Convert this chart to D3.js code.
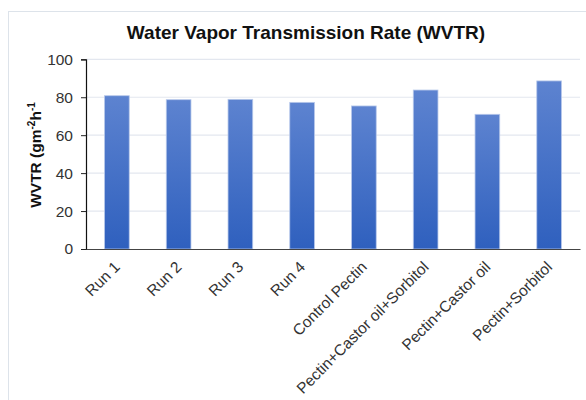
<!DOCTYPE html>
<html>
<head>
<meta charset="utf-8">
<script src="https://cdn.jsdelivr.net/npm/d3@7"></script>
<style>
  body { margin: 0; background: #fff; }
  text { font-family: "Liberation Sans", Arial, sans-serif; }
</style>
</head>
<body>
<div id="chart"></div>
<script>
// datos
const categories = ['Run 1', 'Run 2', 'Run 3', 'Run 4', 'Control Pectin',
  'Pectin+Castor oil+Sorbitol', 'Pectin+Castor oil', 'Pectin+Sorbitol'];
const wvtr = [80.8, 78.7, 78.9, 77.3, 75.4, 83.8, 71.0, 88.6];
const yTicks = [0, 20, 40, 60, 80, 100];

const W = 586, H = 400;
const m = { l: 86, r: 6, t: 59.3, b: 151 };

const svg = d3.select('#chart').append('svg').attr('width', W).attr('height', H);

// marco claro
svg.append('rect').attr('x', 8.5).attr('y', 11.5).attr('width', W).attr('height', H)
  .attr('fill', 'none').attr('stroke', '#dde3ea');

const x = d3.scaleBand().domain(categories).range([m.l, W - m.r])
  .paddingInner(0.6).paddingOuter(0.3);
const y = d3.scaleLinear().domain([0, 100]).range([H - m.b, m.t]);

// degradado azul
const grad = svg.append('defs').append('linearGradient')
  .attr('id', 'barGrad').attr('x1', 0).attr('y1', 0).attr('x2', 0).attr('y2', 1);
grad.append('stop').attr('offset', '0%').attr('stop-color', '#5d83d0');
grad.append('stop').attr('offset', '100%').attr('stop-color', '#2f60be');

// líneas de cuadrícula
svg.append('g').selectAll('line').data(yTicks.slice(1)).enter().append('line')
  .attr('x1', m.l).attr('x2', W - m.r)
  .attr('y1', d => y(d)).attr('y2', d => y(d))
  .attr('stroke', '#e3e7ef').attr('stroke-width', 1.2);

// barras
svg.append('g').selectAll('rect').data(wvtr).enter().append('rect')
  .attr('x', (d, i) => x(categories[i]))
  .attr('y', d => y(d))
  .attr('width', x.bandwidth())
  .attr('height', d => y(0) - y(d))
  .attr('fill', 'url(#barGrad)')
  .attr('stroke', '#b7c8ea').attr('stroke-width', 0.8);

// eje y
const yAxis = svg.append('g').attr('transform', `translate(${m.l},0)`)
  .call(d3.axisLeft(y).tickValues(yTicks).tickSize(5).tickPadding(8));
yAxis.select('.domain').attr('stroke', '#111').attr('stroke-width', 1.2);
yAxis.selectAll('.tick line').attr('stroke', '#222');
yAxis.selectAll('.tick text').attr('font-size', 15.5).attr('fill', '#333')
  .attr('font-family', '"Liberation Sans", Arial, sans-serif');

// eje x
const xAxis = svg.append('g').attr('transform', `translate(0,${y(0)})`)
  .call(d3.axisBottom(x).tickSize(0).tickSizeOuter(0).tickPadding(0));
xAxis.select('.domain').attr('stroke', '#444').attr('stroke-width', 1.2);
xAxis.selectAll('.tick text')
  .attr('font-size', 15.5).attr('fill', '#333')
  .attr('font-family', '"Liberation Sans", Arial, sans-serif')
  .attr('text-anchor', 'end')
  .attr('dy', 0)
  .attr('transform', 'translate(4,19) rotate(-45)');

// título
svg.append('text').attr('x', 306).attr('y', 39).attr('text-anchor', 'middle')
  .attr('font-size', 19).attr('font-weight', 'bold').attr('fill', '#111')
  .text('Water Vapor Transmission Rate (WVTR)');

// etiqueta eje y
const yl = svg.append('text')
  .attr('transform', 'translate(41,155) rotate(-90)')
  .attr('text-anchor', 'middle')
  .attr('font-size', 15.5).attr('font-weight', 'bold').attr('fill', '#111');
yl.append('tspan').text('WVTR (gm');
yl.append('tspan').attr('dy', -6).attr('font-size', 10).text('-2');
yl.append('tspan').attr('dy', 6).text('h');
yl.append('tspan').attr('dy', -6).attr('font-size', 10).text('-1');
</script>
</body>
</html>
